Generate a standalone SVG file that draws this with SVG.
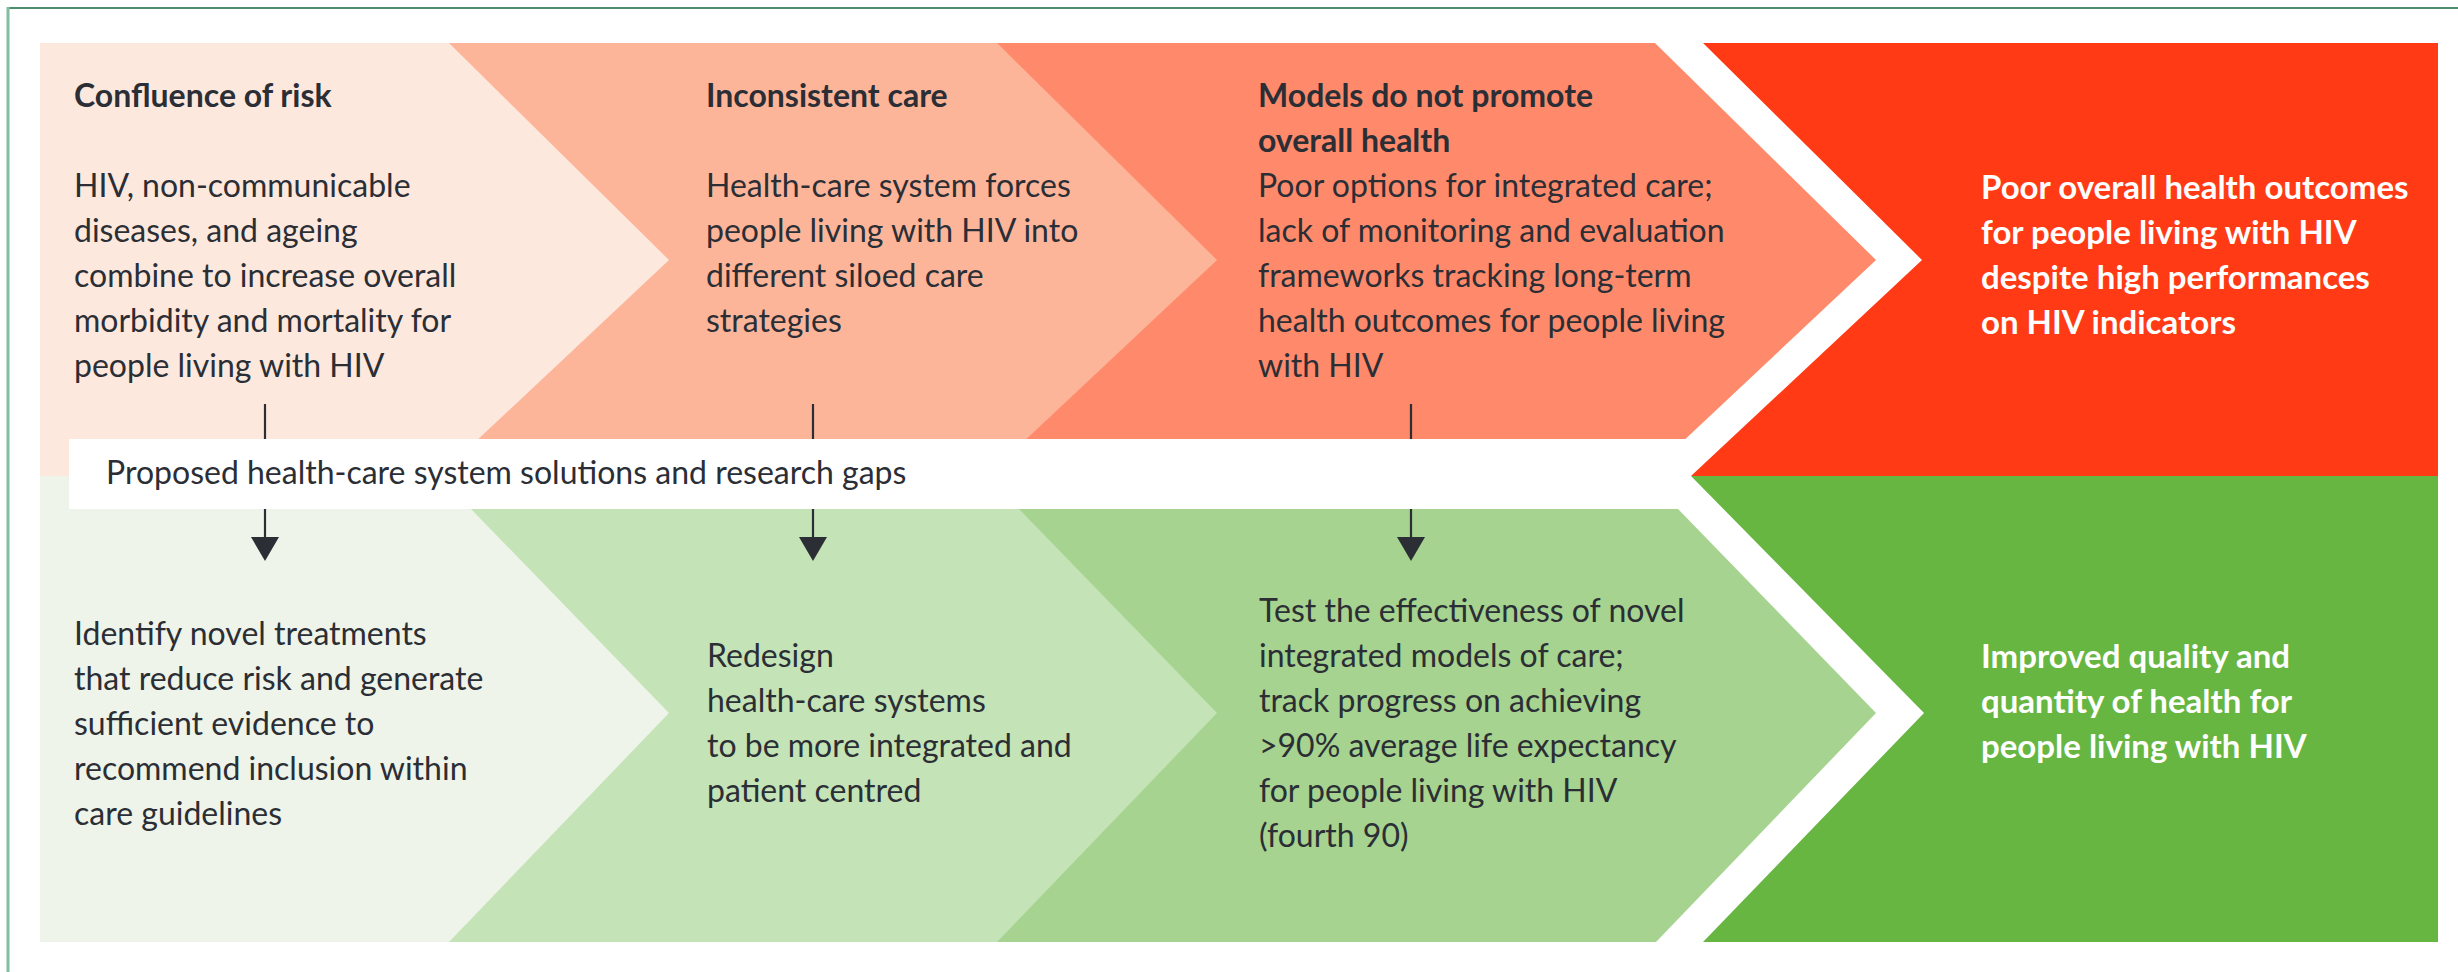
<svg xmlns="http://www.w3.org/2000/svg" width="2458" height="972" viewBox="0 0 2458 972">
  <style>
    .t { font-family: Lato, "Open Sans", "Liberation Sans", sans-serif; font-size: 32px; fill: #2b2e35; }
    .h { font-weight: bold; }
    .w { fill: #ffffff; font-weight: bold; font-size: 33px; }
    .stem { stroke: #2b2e35; stroke-width: 2.2; fill: none; }
  </style>
  <defs>
    <marker id="head" viewBox="0 0 24 28" refX="0" refY="14" markerWidth="24" markerHeight="28" markerUnits="userSpaceOnUse" orient="auto">
      <path d="M0,0 L24,14 L0,28 Z" fill="#2b2e35"/>
    </marker>
  </defs>

  <rect x="0" y="0" width="2458" height="972" fill="#ffffff"/>

  <!-- frame: only the top and left rules show -->
  <line x1="8" y1="8" x2="2458" y2="8" stroke="#4d8f6d" stroke-width="2.2"/>
  <line x1="8" y1="7" x2="8" y2="972" stroke="#82bca1" stroke-width="3"/>

  <!-- problem row (top) -->
  <g id="problem-models">
    <polygon points="40,43 1655,43 1876,260 1646,476 40,476" fill="#fe8a6b"/>
  </g>
  <g id="problem-inconsistent">
    <polygon points="40,43 997,43 1217,260 987,476 40,476" fill="#fdb59a"/>
  </g>
  <g id="problem-confluence">
    <polygon points="40,43 449,43 669,260 439,476 40,476" fill="#fde8dd"/>
  </g>
  <g id="outcome-poor">
    <polygon points="1703,43 2438,43 2438,476 1691,476 1922,260" fill="#ff3a15"/>
  </g>

  <!-- solution row (bottom) -->
  <g id="solution-test">
    <polygon points="40,476 1646,476 1876,713 1656,942 40,942" fill="#a6d38f"/>
  </g>
  <g id="solution-redesign">
    <polygon points="40,476 987,476 1217,713 997,942 40,942" fill="#c4e3b6"/>
  </g>
  <g id="solution-identify">
    <polygon points="40,476 439,476 669,713 449,942 40,942" fill="#eef4e9"/>
  </g>
  <g id="outcome-improved">
    <polygon points="1691,476 2438,476 2438,942 1703,942 1924,713" fill="#66b641"/>
  </g>

  <!-- dividing strip -->
  <g id="strip">
    <rect x="69" y="439" width="1619" height="70" fill="#ffffff"/>
    <text class="t" x="106" y="484">Proposed health-care system solutions and research gaps</text>
  </g>

  <!-- texts, top row -->
  <g id="problem-confluence-text">
    <text class="t h" x="74" y="107">Confluence of risk</text>
    <text class="t" x="74" y="197">HIV, non-communicable</text>
    <text class="t" x="74" y="242">diseases, and ageing</text>
    <text class="t" x="74" y="287">combine to increase overall</text>
    <text class="t" x="74" y="332">morbidity and mortality for</text>
    <text class="t" x="74" y="377">people living with HIV</text>
  </g>
  <g id="problem-inconsistent-text">
    <text class="t h" x="706" y="107">Inconsistent care</text>
    <text class="t" x="706" y="197">Health-care system forces</text>
    <text class="t" x="706" y="242">people living with HIV into</text>
    <text class="t" x="706" y="287">different siloed care</text>
    <text class="t" x="706" y="332">strategies</text>
  </g>
  <g id="problem-models-text">
    <text class="t h" x="1258" y="107">Models do not promote</text>
    <text class="t h" x="1258" y="152">overall health</text>
    <text class="t" x="1258" y="197">Poor options for integrated care;</text>
    <text class="t" x="1258" y="242">lack of monitoring and evaluation</text>
    <text class="t" x="1258" y="287">frameworks tracking long-term</text>
    <text class="t" x="1258" y="332">health outcomes for people living</text>
    <text class="t" x="1258" y="377">with HIV</text>
  </g>
  <g id="outcome-poor-text">
    <text class="t w" x="1981" y="199">Poor overall health outcomes</text>
    <text class="t w" x="1981" y="244">for people living with HIV</text>
    <text class="t w" x="1981" y="289">despite high performances</text>
    <text class="t w" x="1981" y="334">on HIV indicators</text>
  </g>

  <!-- texts, bottom row -->
  <g id="solution-identify-text">
    <text class="t" x="74" y="645">Identify novel treatments</text>
    <text class="t" x="74" y="690">that reduce risk and generate</text>
    <text class="t" x="74" y="735">sufficient evidence to</text>
    <text class="t" x="74" y="780">recommend inclusion within</text>
    <text class="t" x="74" y="825">care guidelines</text>
  </g>
  <g id="solution-redesign-text">
    <text class="t" x="707" y="667">Redesign</text>
    <text class="t" x="707" y="712">health-care systems</text>
    <text class="t" x="707" y="757">to be more integrated and</text>
    <text class="t" x="707" y="802">patient centred</text>
  </g>
  <g id="solution-test-text">
    <text class="t" x="1259" y="622">Test the effectiveness of novel</text>
    <text class="t" x="1259" y="667">integrated models of care;</text>
    <text class="t" x="1259" y="712">track progress on achieving</text>
    <text class="t" x="1259" y="757">&gt;90% average life expectancy</text>
    <text class="t" x="1259" y="802">for people living with HIV</text>
    <text class="t" x="1259" y="847">(fourth 90)</text>
  </g>
  <g id="outcome-improved-text">
    <text class="t w" x="1981" y="668">Improved quality and</text>
    <text class="t w" x="1981" y="713">quantity of health for</text>
    <text class="t w" x="1981" y="758">people living with HIV</text>
  </g>

  <!-- connectors: each problem leads down, under the strip, to its solution -->
  <g id="connectors">
    <path class="stem" d="M265,404 V439 M265,509 V537" marker-end="url(#head)"/>
    <path class="stem" d="M813,404 V439 M813,509 V537" marker-end="url(#head)"/>
    <path class="stem" d="M1411,404 V439 M1411,509 V537" marker-end="url(#head)"/>
  </g>
</svg>
